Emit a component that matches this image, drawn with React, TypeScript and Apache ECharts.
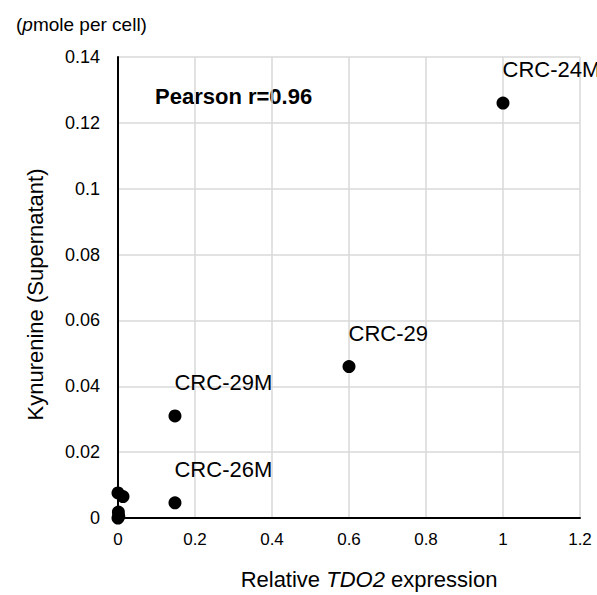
import React, { useEffect, useRef } from "react";
import * as echarts from "echarts";

const xValues = [1.0, 0.6, 0.148, 0.148, 0.0, 0.013, 0.001, 0.002, 0.0];
const yValues = [0.126, 0.046, 0.031, 0.0046, 0.0076, 0.0065, 0.0018, 0.0005, 0.0];
const pointNames = ["CRC-24M", "CRC-29", "CRC-29M", "CRC-26M", "", "", "", "", ""];
const xAxisRange = { min: 0, max: 1.2, interval: 0.2 };
const yAxisRange = { min: 0, max: 0.14, interval: 0.02 };
const pearsonText = "Pearson r=0.96";

const FONT = "'Liberation Sans', Arial, Helvetica, sans-serif";

export default function App() {
  const ref = useRef<HTMLDivElement>(null);

  useEffect(() => {
    if (!ref.current) return;
    const chart = echarts.init(ref.current, null, { renderer: "svg" });
    const data = xValues.map((x, i) => ({
      value: [x, yValues[i]],
      name: pointNames[i],
      label: { show: pointNames[i] !== "" },
    }));
    const fmt = (v: number) => String(+v.toFixed(2));
    chart.setOption({
      animation: false,
      backgroundColor: "#ffffff",
      textStyle: { fontFamily: FONT },
      grid: { left: 118, right: 17, top: 57, bottom: 77, containLabel: false },
      xAxis: {
        type: "value",
        min: xAxisRange.min,
        max: xAxisRange.max,
        interval: xAxisRange.interval,
        axisLine: { show: true, onZero: false, lineStyle: { color: "#000", width: 2 } },
        axisTick: { show: false },
        axisLabel: { color: "#000", fontSize: 17, margin: 13, fontFamily: FONT, formatter: fmt },
        splitLine: { show: true, lineStyle: { color: "#d9d9d9", width: 1.5 } },
        name: "Relative {i|TDO2} expression",
        nameLocation: "middle",
        nameGap: 50,
        nameTextStyle: {
          color: "#000",
          fontSize: 22,
          fontFamily: FONT,
          padding: [0, 0, 0, 40],
          rich: { i: { fontStyle: "italic", fontSize: 22, fontFamily: FONT, color: "#000" } },
        },
      },
      yAxis: {
        type: "value",
        min: yAxisRange.min,
        max: yAxisRange.max,
        interval: yAxisRange.interval,
        axisLine: { show: true, onZero: false, lineStyle: { color: "#000", width: 2 } },
        axisTick: { show: false },
        axisLabel: { color: "#000", fontSize: 18, margin: 18, fontFamily: FONT, formatter: fmt },
        splitLine: { show: true, lineStyle: { color: "#d9d9d9", width: 1.5 } },
        name: "Kynurenine (Supernatant)",
        nameLocation: "middle",
        nameGap: 72,
        nameTextStyle: { color: "#000", fontSize: 22, fontFamily: FONT, padding: [0, 0, 0, -14] },
      },
      graphic: [
        {
          type: "text",
          left: 16,
          top: 15,
          style: {
            text: "({i|p}mole per cell)",
            fontSize: 19,
            fontFamily: FONT,
            fill: "#000",
            rich: { i: { fontStyle: "italic", fontSize: 19, fontFamily: FONT } },
          },
        },
        {
          type: "text",
          left: 155,
          top: 85,
          style: { text: pearsonText, fontSize: 22, fontWeight: "bold", fontFamily: FONT, fill: "#000" },
        },
      ],
      series: [
        {
          type: "scatter",
          symbol: "circle",
          symbolSize: 13,
          itemStyle: { color: "#000", opacity: 1 },
          data,
          label: {
            show: false,
            formatter: (p: any) => p.name,
            position: [6, -27],
            align: "left",
            verticalAlign: "middle",
            color: "#000",
            opacity: 1,
            fontSize: 22,
            fontFamily: FONT,
          },
          emphasis: { disabled: true },
          labelLayout: { hideOverlap: false },
        },
      ],
    });
    return () => chart.dispose();
  }, []);

  return <div ref={ref} style={{ position: "fixed", left: 0, top: 0, width: 597, height: 595 }} />;
}
